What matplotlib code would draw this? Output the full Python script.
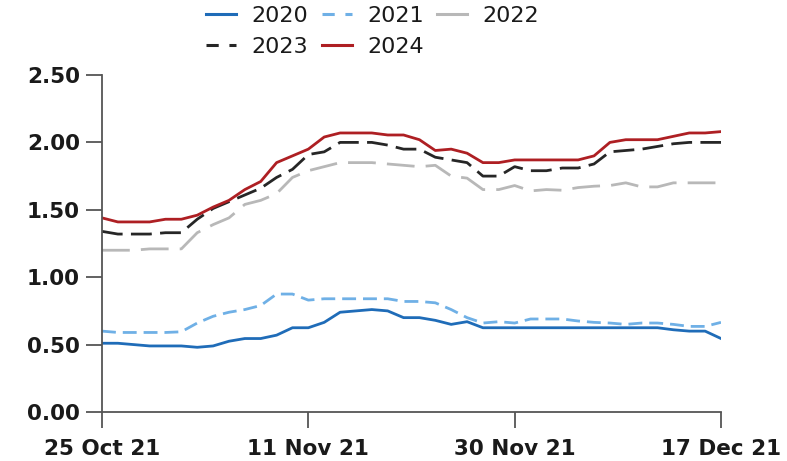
import matplotlib
matplotlib.use("Agg")
import matplotlib.pyplot as plt
from matplotlib.lines import Line2D
import numpy as np

# Weekday index positions (25 Oct 21 .. 17 Dec 21 -> 40 trading days)
tick_positions = [0, 13, 26, 39]
tick_labels = ["25 Oct 21", "11 Nov 21", "30 Nov 21", "17 Dec 21"]
series_names = ["2020", "2021", "2022", "2023", "2024"]

y2020 = [0.51, 0.51, 0.50, 0.49, 0.49, 0.49, 0.48, 0.49, 0.525, 0.545,
         0.545, 0.57, 0.625, 0.625, 0.665, 0.74, 0.75, 0.76, 0.75, 0.70,
         0.70, 0.68, 0.65, 0.67, 0.625, 0.625, 0.625, 0.625, 0.625, 0.625,
         0.625, 0.625, 0.625, 0.625, 0.625, 0.625, 0.61, 0.60, 0.60, 0.545]
y2021 = [0.60, 0.59, 0.59, 0.59, 0.59, 0.595, 0.66, 0.71, 0.74, 0.76,
         0.79, 0.875, 0.875, 0.83, 0.84, 0.84, 0.84, 0.84, 0.84, 0.82,
         0.82, 0.81, 0.76, 0.70, 0.66, 0.67, 0.66, 0.69, 0.69, 0.69,
         0.675, 0.665, 0.66, 0.65, 0.66, 0.66, 0.65, 0.635, 0.635, 0.665]
y2022 = [1.20, 1.20, 1.20, 1.21, 1.21, 1.21, 1.33, 1.39, 1.44, 1.54,
         1.57, 1.62, 1.74, 1.79, 1.82, 1.85, 1.85, 1.85, 1.84, 1.83,
         1.82, 1.83, 1.75, 1.735, 1.65, 1.65, 1.68, 1.64, 1.65, 1.645,
         1.665, 1.675, 1.68, 1.70, 1.67, 1.67, 1.70, 1.70, 1.70, 1.70]
y2023 = [1.34, 1.32, 1.32, 1.32, 1.33, 1.33, 1.43, 1.51, 1.56, 1.61,
         1.66, 1.74, 1.80, 1.91, 1.93, 2.00, 2.00, 2.00, 1.98, 1.95,
         1.95, 1.89, 1.87, 1.85, 1.75, 1.75, 1.82, 1.79, 1.79, 1.81,
         1.81, 1.84, 1.93, 1.94, 1.95, 1.97, 1.99, 2.00, 2.00, 2.00]
y2024 = [1.44, 1.41, 1.41, 1.41, 1.43, 1.43, 1.46, 1.52, 1.57, 1.65,
         1.71, 1.85, 1.90, 1.95, 2.04, 2.07, 2.07, 2.07, 2.055, 2.055,
         2.02, 1.94, 1.95, 1.92, 1.85, 1.85, 1.87, 1.87, 1.87, 1.87,
         1.87, 1.90, 2.00, 2.02, 2.02, 2.02, 2.045, 2.07, 2.07, 2.08]

x = np.arange(len(y2020))

colors = ["#1f6cb8", "#6fb0e6", "#b8b8b8", "#262626", "#ae1f23"]
dash_styles = [None, (5, 2.5), (10, 4), (7.5, 3), None]
legend_dashes = [None, (4, 3.5), None, (4, 3.5), None]

fig = plt.figure(figsize=(7.87, 4.61), dpi=100)
ax = fig.add_axes([102/787, 1 - 412/461, (721-102)/787, (412-75)/461])

lw = 2.0
for ys, c, d in zip([y2020, y2021, y2022, y2023, y2024], colors, dash_styles):
    if d is None:
        ax.plot(x, ys, color=c, lw=lw)
    else:
        ax.plot(x, ys, color=c, lw=lw, dashes=d)

ax.set_xlim(0, len(x) - 1)
ax.set_ylim(0, 2.5)
ax.set_yticks([0, 0.5, 1.0, 1.5, 2.0, 2.5])
ax.set_yticklabels(["0.00", "0.50", "1.00", "1.50", "2.00", "2.50"])
ax.set_xticks(tick_positions)
ax.set_xticklabels(tick_labels)

for s in ["top", "right"]:
    ax.spines[s].set_visible(False)
for s in ["left", "bottom"]:
    ax.spines[s].set_color("#555555")
    ax.spines[s].set_linewidth(1.3)

ax.tick_params(axis="y", length=11.5, width=1.3, color="#555555",
               labelsize=15.5, pad=4.5, labelcolor="#1a1a1a")
ax.tick_params(axis="x", length=11.5, width=1.3, color="#555555",
               labelsize=15.5, pad=8, labelcolor="#1a1a1a")
for lab in ax.get_xticklabels() + ax.get_yticklabels():
    lab.set_fontweight("bold")

handles = []
for c, d in zip(colors, legend_dashes):
    if d is None:
        handles.append(Line2D([], [], color=c, lw=2.2))
    else:
        handles.append(Line2D([], [], color=c, lw=2.2, dashes=d))
order = [0, 3, 1, 4, 2]
leg = fig.legend([handles[i] for i in order], [series_names[i] for i in order],
                 loc="upper left", bbox_to_anchor=(206/787, 1 - 6/461),
                 ncol=3, frameon=False, fontsize=16, handlelength=1.35,
                 handletextpad=0.7, columnspacing=0.6, labelspacing=0.48,
                 borderpad=0, borderaxespad=0)
for t in leg.get_texts():
    t.set_color("#1a1a1a")

fig.savefig("out.png", dpi=100)
